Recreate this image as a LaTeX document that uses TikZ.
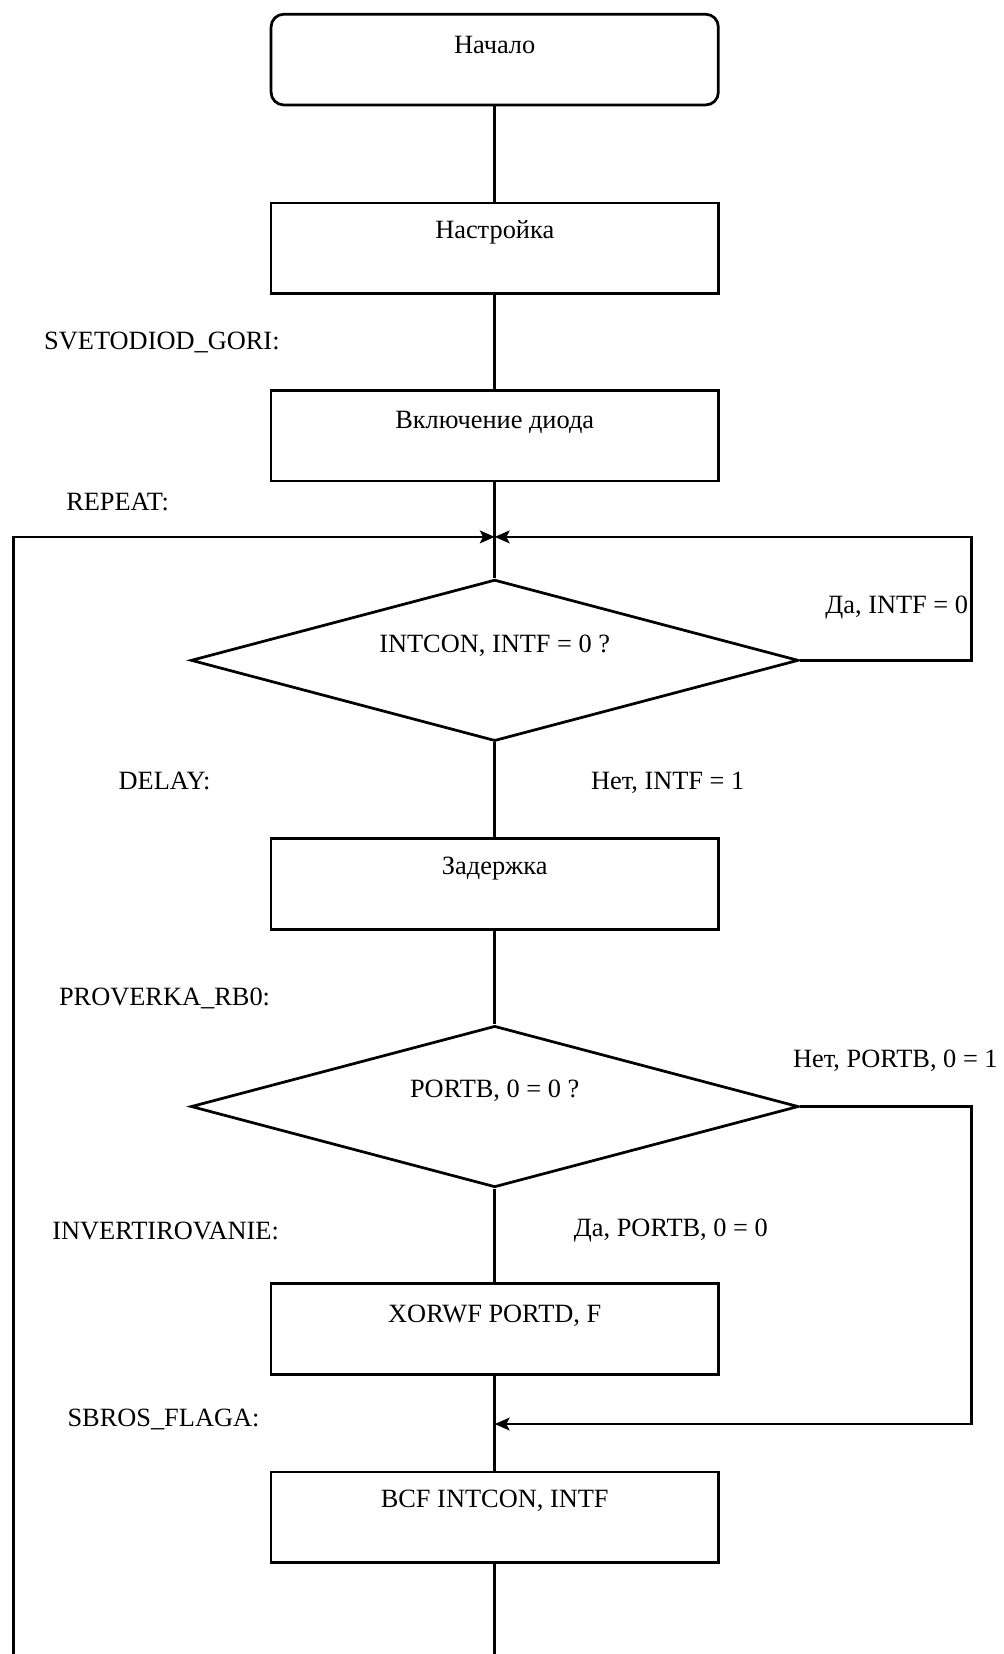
\documentclass[tikz,border=0pt]{standalone}
\usepackage{fontspec}
\setmainfont{Liberation Serif}
\usetikzlibrary{shapes.geometric,arrows.meta}
\begin{document}
\begin{tikzpicture}[x=1pt,y=-1pt,
  every node/.style={font=\fontsize{25}{30}\selectfont},
  lw/.style={line width=2.6pt},
  procbox/.style={draw,lw,rectangle,minimum width=424pt,minimum height=86pt,inner sep=0pt},
  termbox/.style={procbox,rounded corners=12pt},
  decbox/.style={draw,lw,diamond,minimum width=576pt,minimum height=153pt,inner sep=0pt},
  txt/.style={inner sep=0pt,text height=0.66em,text depth=0pt},
  conn/.style={lw},
  arr/.style={lw,-{Stealth[length=14pt,width=12pt,inset=3pt]}}
]
\useasboundingbox (0,0) rectangle (951,1568);

% boxes
\node[termbox] (start) at (469,56.5) {};
\node[procbox] (setup) at (469,235.5) {};
\node[procbox] (led) at (469,413) {};
\node[decbox] (d1) at (469,626) {};
\node[procbox] (delay) at (469,838) {};
\node[decbox] (d2) at (469,1049) {};
\node[procbox] (xor) at (469,1260) {};
\node[procbox] (bcf) at (469,1438.5) {};

% texts inside
\node[txt] (tstart) at (469,47) {Начало};
\node[txt] (tsetup) at (469,223) {Настройка};
\node[txt] (tled) at (469,403) {Включение диода};
\node[txt] (td1) at (469,615) {INTCON, INTF = 0 ?};
\node[txt] (tdelay) at (469,826) {Задержка};
\node[txt] (td2) at (469,1037) {PORTB, 0 = 0 ?};
\node[txt] (txor) at (469,1250) {XORWF PORTD, F};
\node[txt] (tbcf) at (469,1426) {BCF INTCON, INTF};

% labels
\node[txt] (l1) at (153.5,328) {SVETODIOD\_GORI:};
\node[txt] (l2) at (111.5,481) {REPEAT:};
\node[txt] (l3) at (156,745) {DELAY:};
\node[txt] (l4) at (156,950) {PROVERKA\_RB0:};
\node[txt] (l5) at (157,1172) {INVERTIROVANIE:};
\node[txt] (l6) at (155,1349) {SBROS\_FLAGA:};
\node[txt,anchor=east] (y1) at (918,578) {Да, INTF = 0};
\node[txt] (n1) at (633,745) {Нет, INTF = 1};
\node[txt,anchor=east] (n2) at (946,1009) {Нет, PORTB, 0 = 1};
\node[txt] (y2) at (636,1169) {Да, PORTB, 0 = 0};

% coordinates
\coordinate (J1) at (469,509);
\coordinate (J2) at (469,1350);
\coordinate (R1) at (921,626);
\coordinate (R2) at (921,1049);
\coordinate (botL) at (12.5,1568);
\coordinate (botC) at (469,1568);

% connectors
\draw[conn] (start.south) -- (setup.north);
\draw[conn] (setup.south) -- (led.north);
\draw[conn] (led.south) -- (d1.north);
\draw[conn] (d1.south) -- (delay.north);
\draw[conn] (delay.south) -- (d2.north);
\draw[conn] (d2.south) -- (xor.north);
\draw[conn] (xor.south) -- (bcf.north);
\draw[conn] (bcf.south) -- (botC);
\draw[arr] (d1.east) -- (d1.east -| R1) |- (J1);
\draw[arr] (botL) |- (J1);
\draw[arr] (d2.east) -- (d2.east -| R2) |- (J2);
\end{tikzpicture}
\end{document}
